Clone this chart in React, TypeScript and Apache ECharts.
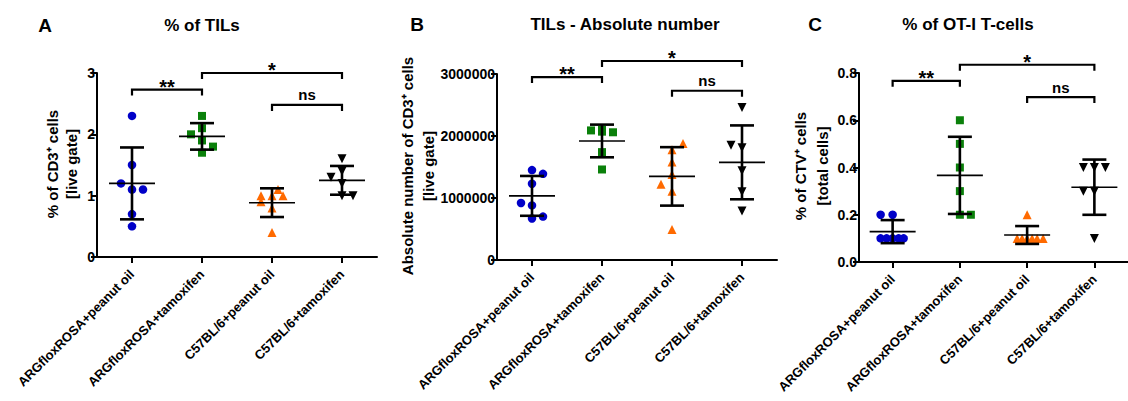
import React, { useEffect, useRef } from 'react';
import * as echarts from 'echarts';

const categories = [
  'ARGfloxROSA+peanut oil',
  'ARGfloxROSA+tamoxifen',
  'C57BL/6+peanut oil',
  'C57BL/6+tamoxifen',
];

// Panel A: % of TILs (% of CD3+ cells, live gate)
const pctTilsArgPeanut = [2.3, 1.5, 1.2, 1.1, 1.1, 0.7, 0.5];
const pctTilsArgTamox = [2.3, 2.1, 2.0, 1.9, 1.8, 1.7];
const pctTilsC57Peanut = [1.1, 1.0, 1.0, 1.0, 0.9, 0.8, 0.4];
const pctTilsC57Tamox = [1.6, 1.4, 1.3, 1.2, 1.0, 1.0];

// Panel B: absolute number of CD3+ cells
const absTilsArgPeanut = [1450000, 1390000, 1230000, 920000, 880000, 670000, 700000];
const absTilsArgTamox = [2090000, 2070000, 2060000, 2100000, 1740000, 1460000];
const absTilsC57Peanut = [1880000, 1780000, 1580000, 1380000, 1220000, 1110000, 490000];
const absTilsC57Tamox = [2460000, 1850000, 1810000, 1440000, 1100000, 790000];

// Panel C: % of CTV+ cells (total cells)
const pctOtArgPeanut = [0.2, 0.2, 0.1, 0.1, 0.1, 0.1, 0.1];
const pctOtArgTamox = [0.6, 0.5, 0.4, 0.3, 0.2, 0.2];
const pctOtC57Peanut = [0.2, 0.1, 0.1, 0.1, 0.1, 0.1, 0.1];
const pctOtC57Tamox = [0.4, 0.4, 0.4, 0.3, 0.3, 0.1];

// horizontal jitter (pixels) of the points, as drawn in the figure
const jitterA = [
  [0, 0, -11, 0, 11, 0, 0],
  [0, 0, -11, 0, 11, 0],
  [6, -11, 0, 11, -11, 0, 0],
  [0, 0, -11, 0, 0, 11],
];
const jitterB = [
  [0, 11, 0, -11, 0, 0, 11],
  [-11, 0, 11, 0, 0, 0],
  [11, 0, 0, 0, -11, 0, 0],
  [0, -11, 0, 0, 0, 0],
];
const jitterC = [
  [-12, 0, -12, -6, 0, 6, 11],
  [0, 0, 0, 0, 0, 11],
  [0, -10, -5, 0, 5, 10, 16],
  [-11, 0, 11, -11, 0, 0],
];

// significance brackets: [from category, to category, height, label]
const bracketsA: [number, number, number, string][] = [
  [0, 1, 2.73, '**'],
  [1, 3, 3.0, '*'],
  [2, 3, 2.48, 'ns'],
];
const bracketsB: [number, number, number, string][] = [
  [0, 1, 2950000, '**'],
  [1, 3, 3210000, '*'],
  [2, 3, 2730000, 'ns'],
];
const bracketsC: [number, number, number, string][] = [
  [0, 1, 0.767, '**'],
  [1, 3, 0.835, '*'],
  [2, 3, 0.698, 'ns'],
];

const FONT = 'Liberation Sans, Arial, Helvetica, sans-serif';
const groupColors = ['#0000c8', '#0a800a', '#ff6a00', '#000000'];
const groupSymbols = ['circle', 'rect', 'triangle', 'triangle'];
const groupRotate = [0, 0, 0, 180];
const groupSizes = [8.5, 8, 9, 9];

function mean(a: number[]) {
  return a.reduce((s, v) => s + v, 0) / a.length;
}
function sd(a: number[]) {
  const m = mean(a);
  return Math.sqrt(a.reduce((s, v) => s + (v - m) * (v - m), 0) / (a.length - 1));
}

function panelSeries(g: number, groups: number[][], jitter: number[][], brackets: [number, number, number, string][]) {
  const series: any[] = [];
  groups.forEach((vals, ci) => {
    series.push({
      type: 'scatter',
      xAxisIndex: g,
      yAxisIndex: g,
      symbol: groupSymbols[ci],
      symbolSize: groupSizes[ci],
      symbolRotate: groupRotate[ci],
      itemStyle: { color: groupColors[ci], opacity: 1 },
      z: 3,
      data: vals.map((v, k) => ({ value: [ci, v], symbolOffset: [jitter[ci][k] || 0, 0] })),
    });
  });
  series.push({
    type: 'custom',
    xAxisIndex: g,
    yAxisIndex: g,
    z: 5,
    encode: { x: 0, y: [1, 2, 3] },
    data: groups.map((vals, ci) => {
      const m = mean(vals);
      const s = sd(vals);
      return [ci, m, m - s, m + s];
    }),
    renderItem: (params: any, api: any) => {
      const c = api.coord([api.value(0), api.value(1)]);
      const lo = api.coord([api.value(0), api.value(2)]);
      const hi = api.coord([api.value(0), api.value(3)]);
      const x = c[0];
      const st = (w: number) => ({ stroke: '#000', lineWidth: w });
      return {
        type: 'group',
        children: [
          { type: 'line', shape: { x1: x - 23, y1: c[1], x2: x + 23, y2: c[1] }, style: st(1.6) },
          { type: 'line', shape: { x1: x, y1: lo[1], x2: x, y2: hi[1] }, style: st(2.6) },
          { type: 'line', shape: { x1: x - 12, y1: lo[1], x2: x + 12, y2: lo[1] }, style: st(2.6) },
          { type: 'line', shape: { x1: x - 12, y1: hi[1], x2: x + 12, y2: hi[1] }, style: st(2.6) },
        ],
      };
    },
  });
  series.push({
    type: 'custom',
    xAxisIndex: g,
    yAxisIndex: g,
    z: 6,
    clip: false,
    encode: { x: [0, 1], y: 2 },
    data: brackets.map((b) => [b[0], b[1], b[2]]),
    renderItem: (params: any, api: any) => {
      const p1 = api.coord([api.value(0), api.value(2)]);
      const p2 = api.coord([api.value(1), api.value(2)]);
      const label = brackets[params.dataIndex][3];
      const isStar = label !== 'ns';
      return {
        type: 'group',
        children: [
          {
            type: 'polyline',
            shape: { points: [[p1[0], p1[1] + 6], [p1[0], p1[1]], [p2[0], p1[1]], [p2[0], p1[1] + 6]] },
            style: { stroke: '#000', lineWidth: 2.2, fill: null },
          },
          {
            type: 'text',
            x: (p1[0] + p2[0]) / 2,
            y: isStar ? p1[1] - 3 : p1[1] - 10,
            style: {
              text: label,
              fill: '#000',
              fontSize: isStar ? 20 : 15,
              fontWeight: 'bold',
              fontFamily: FONT,
              align: 'center',
              verticalAlign: 'middle',
            },
          },
        ],
      };
    },
  });
  return series;
}

function yAxisCfg(g: number, max: number, interval: number, fmt: (v: number) => string) {
  return {
    gridIndex: g,
    type: 'value',
    min: 0,
    max,
    interval,
    axisLine: { show: true, lineStyle: { color: '#000', width: 2 } },
    axisTick: { show: true, length: 6, lineStyle: { color: '#000', width: 2 } },
    axisLabel: {
      color: '#000',
      fontWeight: 'bold',
      fontSize: 14,
      fontFamily: FONT,
      margin: 2,
      formatter: fmt,
    },
    splitLine: { show: false },
  };
}

function xAxisCfg(g: number) {
  return {
    gridIndex: g,
    type: 'category',
    data: categories,
    axisLine: { show: true, lineStyle: { color: '#000', width: 2 } },
    axisTick: { show: true, alignWithLabel: true, length: 6, lineStyle: { color: '#000', width: 2 } },
    axisLabel: {
      rotate: 45,
      interval: 0,
      color: '#000',
      fontWeight: 'bold',
      fontSize: 13,
      fontFamily: FONT,
      margin: 15,
    },
    splitLine: { show: false },
  };
}

function txt(x: number, y: number, text: string, size: number, rot = 0) {
  return {
    type: 'text',
    x,
    y,
    rotation: rot,
    style: {
      text,
      fill: '#000',
      fontSize: size,
      fontWeight: 'bold',
      fontFamily: FONT,
      align: 'center',
      verticalAlign: 'middle',
    },
  };
}

export default function App() {
  const ref = useRef<HTMLDivElement>(null);
  useEffect(() => {
    if (!ref.current) return;
    const chart = echarts.init(ref.current, null, { renderer: 'svg' });
    const R = Math.PI / 2;
    chart.setOption({
      animation: false,
      backgroundColor: '#fff',
      grid: [
        { left: 97, top: 73, width: 280, height: 184 },
        { left: 497, top: 74, width: 280, height: 186 },
        { left: 859, top: 73, width: 280, height: 189 },
      ],
      xAxis: [xAxisCfg(0), xAxisCfg(1), xAxisCfg(2)],
      yAxis: [
        yAxisCfg(0, 3, 1, (v: number) => String(v)),
        yAxisCfg(1, 3000000, 1000000, (v: number) => String(v)),
        yAxisCfg(2, 0.8, 0.2, (v: number) => v.toFixed(1)),
      ],
      series: [
        ...panelSeries(0, [pctTilsArgPeanut, pctTilsArgTamox, pctTilsC57Peanut, pctTilsC57Tamox], jitterA, bracketsA),
        ...panelSeries(1, [absTilsArgPeanut, absTilsArgTamox, absTilsC57Peanut, absTilsC57Tamox], jitterB, bracketsB),
        ...panelSeries(2, [pctOtArgPeanut, pctOtArgTamox, pctOtC57Peanut, pctOtC57Tamox], jitterC, bracketsC),
      ],
      graphic: [
        txt(45, 25, 'A', 19),
        txt(202, 25, '% of TILs', 17),
        txt(417, 24, 'B', 19),
        txt(625, 24, 'TILs - Absolute number', 17),
        txt(815, 24, 'C', 19),
        txt(968, 24, '% of OT-I T-cells', 17),
        txt(52, 164, '% of CD3⁺ cells', 15, R),
        txt(71, 164, '[live gate]', 15, R),
        txt(407, 166, 'Absolute number of CD3⁺ cells', 15, R),
        txt(428, 166, '[live gate]', 15, R),
        txt(800, 166, '% of CTV⁺ cells', 15, R),
        txt(822, 166, '[total cells]', 15, R),
      ],
    });
    return () => chart.dispose();
  }, []);
  return (
    <div
      ref={ref}
      style={{ position: 'fixed', left: 0, top: 0, width: 1128, height: 401, background: '#fff' }}
    />
  );
}
